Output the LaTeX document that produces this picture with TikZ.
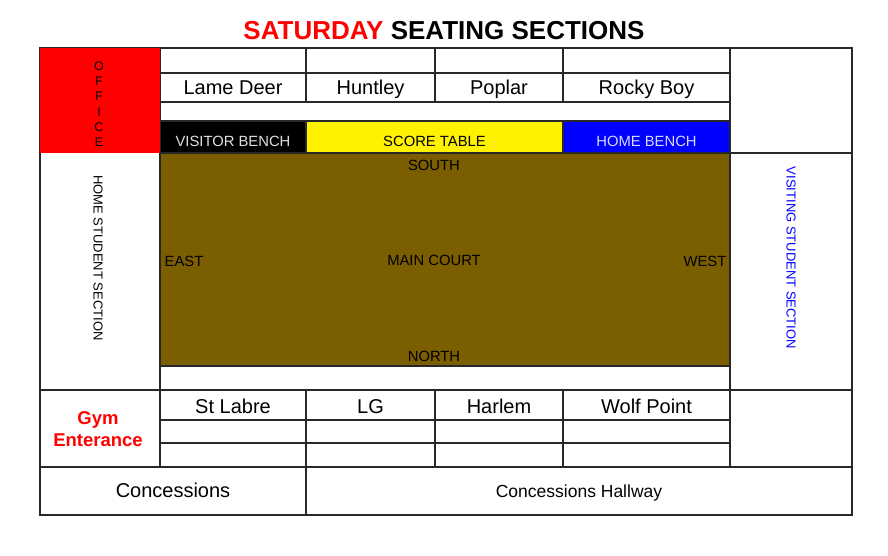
\documentclass[tikz,border=0pt]{standalone}
\usepackage{fontspec}
\setmainfont{Liberation Sans}
\definecolor{court}{RGB}{123,94,0}
\definecolor{gridline}{RGB}{40,40,40}
\begin{document}
\begin{tikzpicture}[x=1pt,y=-1pt,
  grid/.style={draw=gridline, line width=1.1pt},
  big/.style={font=\fontsize{20}{24}\selectfont, inner sep=0pt, anchor=base},
  small/.style={font=\fontsize{13}{15}\selectfont, inner sep=0pt},
  letter/.style={font=\fontsize{12.5}{15}\selectfont, inner sep=0pt, text=black},
  benchlbl/.style={font=\fontsize{14.8}{17}\selectfont, inner sep=0pt},
  courtlbl/.style={font=\fontsize{14.8}{17}\selectfont, inner sep=0pt}]
\useasboundingbox (0,0) rectangle (888,556);
% fills
\fill[black] (160,121) rectangle (306,153);
\fill[yellow] (306,121) rectangle (563,153);
\fill[blue] (563,121) rectangle (730,153);
\fill[court] (160,153) rectangle (730,366);
% lines
\draw[grid] (40,48) rectangle (852,515);
\draw[grid] (160,48) -- (160,467);
\draw[grid] (730,48) -- (730,467);
\draw[grid] (730,153) -- (852,153);
\draw[grid] (40,390) -- (852,390);
\draw[grid] (40,467) -- (852,467);
\draw[grid] (306,467) -- (306,515);
% top grid
\draw[grid] (160,73) -- (730,73);
\draw[grid] (160,102) -- (730,102);
\foreach \x in {306,435,563} \draw[grid] (\x,48) -- (\x,102);
% benches and court
\draw[grid] (160,121) rectangle (730,153);
\draw[grid] (306,121) -- (306,153);
\draw[grid] (563,121) -- (563,153);
\draw[grid] (160,153) rectangle (730,366);
% bottom grid
\draw[grid] (160,420) -- (730,420);
\draw[grid] (160,443) -- (730,443);
\foreach \x in {306,435,563} \draw[grid] (\x,390) -- (\x,467);
% office
\fill[red] (40,48) rectangle (160,153);
% texts
\node (title) at (444,31) {\fontsize{26}{30}\selectfont\bfseries\textcolor{red}{SATURDAY} SEATING SECTIONS};
\node[letter] (o1) at (99,66) {O};
\node[letter] (o2) at (99,81.3) {F};
\node[letter] (o3) at (99,96.6) {F};
\node[letter] (o4) at (99,111.9) {I};
\node[letter] (o5) at (99,127.2) {C};
\node[letter] (o6) at (99,142.5) {E};
\node[big] (lame) at (233,95) {Lame Deer};
\node[big] (huntley) at (370.5,95) {Huntley};
\node[big] (poplar) at (499,95) {Poplar};
\node[big] (rocky) at (646.5,95) {Rocky Boy};
\node[benchlbl, text=white!88!black] (visitor) at (233,141.5) {VISITOR BENCH};
\node[benchlbl] (score) at (434.5,141.5) {SCORE TABLE};
\node[benchlbl, text=white!85!blue] (home) at (646.5,141.5) {HOME BENCH};
\node[courtlbl] (south) at (434,165.5) {SOUTH};
\node[courtlbl] (east) at (184,261) {EAST};
\node[courtlbl] (main) at (434,260) {MAIN COURT};
\node[courtlbl] (west) at (705,261) {WEST};
\node[courtlbl] (north) at (434,356) {NORTH};
\node[small, rotate=-90] (homestud) at (98,258) {HOME STUDENT SECTION};
\node[small, rotate=-90, text=blue] (visstud) at (791,258) {VISITING STUDENT SECTION};
\node[big] (stlabre) at (233,413) {St Labre};
\node[big] (lg) at (370.5,413) {LG};
\node[big] (harlem) at (499,413) {Harlem};
\node[big] (wolf) at (646.5,413) {Wolf Point};
\node[align=center, text=red, font=\fontsize{18.5}{22}\selectfont\bfseries, inner sep=0pt] (gym) at (98,429) {Gym\\Enterance};
\node[big] (conc) at (173,497) {Concessions};
\node[font=\fontsize{17.5}{20}\selectfont, inner sep=0pt, anchor=base] (hall) at (579,497) {Concessions Hallway};
\end{tikzpicture}
\end{document}
